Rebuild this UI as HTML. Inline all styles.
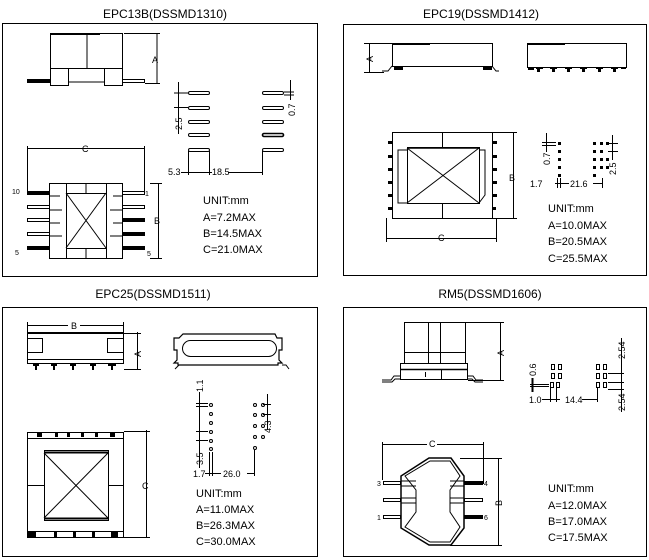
<!DOCTYPE html>
<html><head><meta charset="utf-8"><style>
html,body{margin:0;padding:0;background:#fff;}
svg{display:block;font-family:"Liberation Sans",sans-serif;}
text{fill:#000;}
.t{font-size:12px;text-anchor:middle;}
.u{font-size:11px;}
.s{font-size:9px;}
.xs{font-size:7px;}
</style></head><body>
<svg width="649" height="560" viewBox="0 0 649 560" xmlns="http://www.w3.org/2000/svg" stroke="#000" fill="none" stroke-width="1">
<g stroke="none">
<text class="t" x="165" y="18">EPC13B(DSSMD1310)</text>
<text class="t" x="481" y="18">EPC19(DSSMD1412)</text>
<text class="t" x="153" y="298">EPC25(DSSMD1511)</text>
<text class="t" x="490" y="298">RM5(DSSMD1606)</text>
</g>
<rect x="2.5" y="23.5" width="315" height="253"/>
<rect x="343.5" y="24.5" width="303" height="251"/>
<rect x="2.5" y="307.5" width="315" height="249"/>
<rect x="343.5" y="307.5" width="303" height="249"/>

<!-- ===== EPC13B ===== -->
<rect x="50.5" y="33.5" width="72" height="35"/>
<line x1="87" y1="33" x2="87" y2="68"/>
<line x1="50" y1="34" x2="100" y2="34" stroke-width="2"/>
<rect x="50.5" y="68.5" width="18" height="17"/>
<rect x="104.5" y="68.5" width="18" height="17"/>
<line x1="68" y1="82" x2="104" y2="82"/>
<rect x="27.5" y="79.5" width="23" height="3" fill="#000"/>
<rect x="122.5" y="79.5" width="22" height="3"/>
<line x1="157" y1="33" x2="157" y2="84"/>
<line x1="124" y1="33.5" x2="160" y2="33.5"/>
<line x1="145" y1="83.5" x2="160" y2="83.5"/>
<text class="s" x="152" y="63" stroke="none">A</text>
<g>
<rect x="188.5" y="91.5" width="21" height="3" rx="1.5"/><rect x="188.5" y="106.5" width="21" height="3" rx="1.5"/><rect x="188.5" y="120.5" width="21" height="3" rx="1.5"/><rect x="188.5" y="133.5" width="21" height="3" rx="1.5"/><rect x="188.5" y="148.5" width="21" height="3" rx="1.5"/>
<rect x="262.5" y="91.5" width="21" height="3" rx="1.5"/><rect x="262.5" y="106.5" width="21" height="3" rx="1.5"/><rect x="262.5" y="120.5" width="21" height="3" rx="1.5"/><rect x="262.5" y="133.5" width="21" height="3" rx="1.5" stroke-width="1.6"/><rect x="262.5" y="148.5" width="21" height="3" rx="1.5"/>
</g>
<line x1="178.5" y1="82" x2="178.5" y2="134"/>
<line x1="174" y1="93" x2="188" y2="93"/><line x1="174" y1="107.5" x2="188" y2="107.5"/>
<text class="s" stroke="none" transform="translate(182,130) rotate(-90)">2.5</text>
<line x1="290.5" y1="80" x2="290.5" y2="100"/>
<line x1="284" y1="92" x2="294" y2="92"/><line x1="284" y1="95" x2="294" y2="95"/>
<text class="s" stroke="none" transform="translate(295,116) rotate(-90)">0.7</text>
<line x1="188.5" y1="151" x2="188.5" y2="175"/><line x1="209.5" y1="151" x2="209.5" y2="175"/><line x1="262.5" y1="151" x2="262.5" y2="175"/>
<line x1="181" y1="172.5" x2="212" y2="172.5"/>
<line x1="228" y1="172.5" x2="262" y2="172.5"/>
<text class="s" stroke="none" x="168" y="175">5.3</text>
<text class="s" stroke="none" x="212" y="175">18.5</text>
<line x1="27" y1="148.5" x2="144" y2="148.5"/>
<line x1="27.5" y1="146" x2="27.5" y2="192"/><line x1="144.5" y1="146" x2="144.5" y2="192"/>
<text class="s" stroke="none" x="82" y="152">C</text>
<rect x="49.5" y="183.5" width="73" height="75"/>
<line x1="66.5" y1="183" x2="66.5" y2="258"/><line x1="106.5" y1="183" x2="106.5" y2="258"/>
<line x1="66" y1="193.5" x2="106" y2="193.5"/><line x1="66" y1="248.5" x2="106" y2="248.5"/>
<line x1="86" y1="183" x2="86" y2="193"/><line x1="86" y1="248" x2="86" y2="258"/>
<line x1="66" y1="193" x2="106" y2="248"/><line x1="106" y1="193" x2="66" y2="248"/>
<g>
<rect x="27.5" y="191.5" width="22" height="3" fill="#000"/><rect x="27.5" y="205.5" width="22" height="3"/><rect x="27.5" y="218.5" width="22" height="3"/><rect x="27.5" y="232.5" width="22" height="3"/><rect x="27.5" y="246.5" width="22" height="3" fill="#000"/>
<rect x="122.5" y="191.5" width="22" height="3"/><rect x="122.5" y="205.5" width="22" height="3"/><rect x="122.5" y="218.5" width="22" height="3" fill="#000"/><rect x="122.5" y="232.5" width="22" height="3" fill="#000"/><rect x="122.5" y="246.5" width="22" height="3" fill="#000"/>
<path d="M50 196h10 M50 210h12 M50 223h10 M50 236h12 M113 196h9 M110 210h12 M113 223h9 M110 236h12"/>
</g>
<line x1="158.5" y1="183" x2="158.5" y2="259"/>
<line x1="150" y1="183.5" x2="162" y2="183.5"/><line x1="150" y1="258.5" x2="162" y2="258.5"/>
<text class="s" stroke="none" x="154" y="224">B</text>
<text class="xs" stroke="none" x="12" y="194">10</text>
<text class="xs" stroke="none" x="145" y="196">1</text>
<text class="xs" stroke="none" x="15" y="255">5</text>
<text class="xs" stroke="none" x="147" y="256">5</text>
<g stroke="none" class="u">
<text x="203" y="204">UNIT:mm</text>
<text x="203" y="221">A=7.2MAX</text>
<text x="203" y="237">B=14.5MAX</text>
<text x="203" y="253">C=21.0MAX</text>
</g>

<!-- ===== EPC19 ===== -->
<rect x="392.5" y="43.5" width="100" height="23"/>
<line x1="392" y1="44" x2="430" y2="44" stroke-width="2"/>
<path d="M392 66 l-4 5 h-6 M492 66 l4 5 h3"/>
<rect x="394.5" y="66.5" width="8" height="3" fill="#000"/><rect x="483.5" y="66.5" width="8" height="3" fill="#000"/>
<line x1="369.5" y1="43" x2="369.5" y2="72"/>
<line x1="364" y1="43.5" x2="392" y2="43.5"/><line x1="364" y1="72.5" x2="384" y2="72.5"/>
<text class="s" stroke="none" transform="translate(373,62) rotate(-90)">A</text>
<rect x="527.5" y="43.5" width="99" height="24"/>
<line x1="527" y1="44" x2="565" y2="44" stroke-width="2"/>
<g fill="#000" stroke="none">
<rect x="528" y="67" width="6" height="3"/><rect x="536" y="67" width="7" height="2"/><rect x="537" y="69" width="3" height="3"/>
<rect x="550" y="67" width="7" height="2"/><rect x="552" y="69" width="3" height="3"/>
<rect x="565" y="67" width="7" height="2"/><rect x="567" y="69" width="3" height="3"/>
<rect x="580" y="67" width="7" height="2"/><rect x="582" y="69" width="3" height="3"/>
<rect x="596" y="67" width="7" height="2"/><rect x="598" y="69" width="3" height="3"/>
<rect x="611" y="67" width="7" height="2"/><rect x="613" y="69" width="3" height="3"/>
<rect x="621" y="67" width="5" height="2"/>
</g>
<rect x="392.5" y="132.5" width="100" height="86"/>
<line x1="442.5" y1="132" x2="442.5" y2="148"/><line x1="442.5" y1="203" x2="442.5" y2="218"/>
<rect x="407.5" y="147.5" width="72" height="56"/>
<line x1="407" y1="148" x2="479" y2="148" stroke-width="1.6"/>
<path d="M407 150 h-9 v53 h9 M479 150 h6 v45 l-6 8"/>
<line x1="407" y1="148" x2="479" y2="203"/><line x1="479" y1="148" x2="407" y2="203"/>
<g fill="#000" stroke="none">
<rect x="388" y="141" width="4" height="3"/><rect x="388" y="155" width="4" height="3"/><rect x="388" y="168" width="4" height="3"/><rect x="388" y="181" width="4" height="3"/><rect x="388" y="194" width="4" height="3"/><rect x="388" y="207" width="4" height="3"/>
<rect x="493" y="141" width="4" height="3"/><rect x="493" y="155" width="4" height="3"/><rect x="493" y="168" width="4" height="3"/><rect x="493" y="181" width="4" height="3"/><rect x="493" y="194" width="4" height="3"/><rect x="493" y="207" width="3" height="3"/>
</g>
<line x1="513.5" y1="132" x2="513.5" y2="219"/>
<line x1="492" y1="132.5" x2="517" y2="132.5"/><line x1="492" y1="218.5" x2="517" y2="218.5"/>
<text class="s" stroke="none" x="509" y="181">B</text>
<line x1="386" y1="238.5" x2="496" y2="238.5"/>
<line x1="386.5" y1="218" x2="386.5" y2="242"/><line x1="496.5" y1="218" x2="496.5" y2="242"/>
<text class="s" stroke="none" x="438" y="241">C</text>
<g fill="#000" stroke="none">
<rect x="558" y="142" width="3" height="3"/><rect x="558" y="150" width="3" height="3"/><rect x="558" y="158" width="3" height="3"/><rect x="558" y="166" width="3" height="3"/><rect x="558" y="174" width="3" height="3"/>
<rect x="593" y="142" width="3" height="3"/><rect x="593" y="150" width="3" height="3"/><rect x="593" y="158" width="3" height="3"/><rect x="593" y="166" width="3" height="3"/><rect x="593" y="174" width="3" height="3"/>
<rect x="600" y="142" width="3" height="3"/><rect x="600" y="150" width="3" height="3"/><rect x="600" y="158" width="3" height="3"/><rect x="600" y="166" width="3" height="3"/>
<rect x="606" y="142" width="3" height="3"/><rect x="606" y="158" width="3" height="3"/><rect x="606" y="166" width="3" height="3"/>
</g>
<line x1="546.5" y1="133" x2="546.5" y2="152"/><line x1="542" y1="142.5" x2="556" y2="142.5"/><line x1="542" y1="145.5" x2="556" y2="145.5"/>
<text class="s" stroke="none" transform="translate(550,165) rotate(-90)">0.7</text>
<line x1="612.5" y1="135" x2="612.5" y2="160"/><line x1="608" y1="143.5" x2="618" y2="143.5"/><line x1="608" y1="151.5" x2="618" y2="151.5"/>
<text class="s" stroke="none" transform="translate(616,175) rotate(-90)">2.5</text>
<line x1="542" y1="183.5" x2="602" y2="183.5"/>
<path d="M557.5 178v10 M560.5 178v10 M602.5 178v10"/>
<rect x="539" y="178" width="16" height="10" fill="#fff" stroke="none"/>
<rect x="569" y="178" width="24" height="10" fill="#fff" stroke="none"/>
<text class="s" stroke="none" x="530" y="187">1.7</text>
<text class="s" stroke="none" x="570" y="187">21.6</text>
<g stroke="none" class="u">
<text x="548" y="212">UNIT:mm</text>
<text x="548" y="229">A=10.0MAX</text>
<text x="548" y="245">B=20.5MAX</text>
<text x="548" y="262">C=25.5MAX</text>
</g>

<!-- ===== EPC25 ===== -->
<line x1="27" y1="325.5" x2="123" y2="325.5"/>
<path d="M27.5 322v12 M123.5 322v12"/>
<rect x="68" y="321" width="12" height="9" fill="#fff" stroke="none"/>
<text class="s" stroke="none" x="71" y="329">B</text>
<rect x="27.5" y="332.5" width="96" height="31"/>
<line x1="27" y1="333" x2="123" y2="333" stroke-width="2"/>
<rect x="27.5" y="338.5" width="15" height="14"/><rect x="107.5" y="338.5" width="16" height="14"/>
<line x1="27" y1="359.5" x2="123" y2="359.5"/>
<g fill="#000" stroke="none">
<rect x="33" y="364" width="6" height="2"/><rect x="35" y="366" width="2" height="4"/>
<rect x="51" y="364" width="6" height="2"/><rect x="53" y="366" width="2" height="4"/>
<rect x="70" y="364" width="6" height="2"/><rect x="72" y="366" width="2" height="4"/>
<rect x="90" y="364" width="6" height="2"/><rect x="92" y="366" width="2" height="4"/>
<rect x="108" y="364" width="8" height="2"/><rect x="111" y="366" width="2" height="4"/>
</g>
<line x1="137.5" y1="332" x2="137.5" y2="370"/>
<line x1="124" y1="333.5" x2="141" y2="333.5"/><line x1="124" y1="369.5" x2="141" y2="369.5"/>
<text class="s" stroke="none" transform="translate(141,357) rotate(-90)">A</text>
<path d="M183 334 h92 l2 4 h5 v12 h-3 v10 l3 3 h-4 v2 h-100 v-2 l-4 0 3 -3 v-10 h-3 v-12 h5 z" stroke-width="1.2"/>
<rect x="182.5" y="340.5" width="94" height="16" rx="8"/>
<path d="M175 369 l4 -4 h8 M282 365 h4 l3 4"/>
<rect x="27.5" y="432.5" width="96" height="105"/>
<line x1="27" y1="438.5" x2="123" y2="438.5"/>
<line x1="27" y1="531.5" x2="123" y2="531.5"/>
<path d="M27 485.5 h17 M108 485.5 h15"/>
<rect x="44.5" y="450.5" width="64" height="70"/>
<line x1="44" y1="452.5" x2="108" y2="452.5" stroke-width="2"/>
<line x1="44" y1="518.5" x2="108" y2="518.5" stroke-width="2"/>
<line x1="44" y1="453" x2="108" y2="518"/><line x1="108" y1="453" x2="44" y2="518"/>
<g fill="#000" stroke="none">
<rect x="37" y="432" width="5" height="5"/><rect x="55" y="432" width="3" height="5"/><rect x="67" y="432" width="3" height="5"/><rect x="81" y="432" width="3" height="5"/><rect x="95" y="432" width="3" height="5"/><rect x="110" y="432" width="5" height="5"/>
<rect x="28" y="532" width="8" height="5"/><rect x="54" y="532" width="3" height="5"/><rect x="73" y="532" width="3" height="5"/><rect x="92" y="532" width="3" height="5"/><rect x="111" y="532" width="7" height="5"/>
</g>
<line x1="146.5" y1="430" x2="146.5" y2="538"/>
<line x1="124" y1="431.5" x2="150" y2="431.5"/><line x1="124" y1="537.5" x2="150" y2="537.5"/>
<text class="s" stroke="none" x="142" y="489">C</text>
<g fill="#fff">
<circle cx="211" cy="405" r="1.5"/><circle cx="211" cy="414" r="1.5"/><circle cx="211" cy="423" r="1.5"/><circle cx="211" cy="432" r="1.5"/><circle cx="211" cy="441" r="1.5"/><circle cx="211" cy="449" r="1.5"/>
<circle cx="255" cy="405" r="1.5"/><circle cx="255" cy="415" r="1.5"/><circle cx="255" cy="426" r="1.5"/><circle cx="255" cy="437" r="1.5"/><circle cx="255" cy="448" r="1.5"/>
<circle cx="263" cy="405" r="1.5"/><circle cx="263" cy="415" r="1.5"/><circle cx="263" cy="426" r="1.5"/><circle cx="263" cy="437" r="1.5"/>
</g>
<line x1="199.5" y1="392" x2="199.5" y2="468"/>
<path d="M196 403.5h12 M196 406.5h12 M196 431.5h12 M196 440.5h12"/>
<text class="s" stroke="none" transform="translate(203,392) rotate(-90)">1.1</text>
<text class="s" stroke="none" transform="translate(203,465) rotate(-90)">3.5</text>
<line x1="267.5" y1="394" x2="267.5" y2="430"/>
<path d="M263 404.5h8 M263 414.5h8"/>
<text class="s" stroke="none" transform="translate(271,433) rotate(-90)">4.3</text>
<line x1="205" y1="473.5" x2="255" y2="473.5"/>
<path d="M209.5 452v24 M212.5 452v24 M254.5 450v26"/>
<rect x="221" y="468" width="26" height="10" fill="#fff" stroke="none"/>
<text class="s" stroke="none" x="193" y="477">1.7</text>
<text class="s" stroke="none" x="223" y="477">26.0</text>
<g stroke="none" class="u">
<text x="196" y="497">UNIT:mm</text>
<text x="196" y="513">A=11.0MAX</text>
<text x="196" y="529">B=26.3MAX</text>
<text x="196" y="545">C=30.0MAX</text>
</g>

<!-- ===== RM5 ===== -->
<rect x="404.5" y="322.5" width="61" height="41"/>
<path d="M428.5 322v41 M440.5 322v41 M404 352.5h61"/>
<rect x="400.5" y="363.5" width="67" height="16"/>
<line x1="400" y1="369.5" x2="467" y2="369.5" stroke-width="1.6"/>
<path d="M425.5 372v5 M441.5 370v10"/>
<path d="M400 376 h-6 l-3 4 h-9 M400 379 h-5 l-3 3 h-10 M467 376 h6 l3 4 h7 M467 379 h5 l3 3 h8"/>
<line x1="500.5" y1="322" x2="500.5" y2="381"/>
<path d="M466 322.5h38 M468 380.5h36"/>
<text class="s" stroke="none" transform="translate(504,356) rotate(-90)">A</text>
<g fill="#fff">
<rect x="551.5" y="364.5" width="3" height="5"/><rect x="558.5" y="364.5" width="3" height="5"/>
<rect x="551.5" y="373.5" width="3" height="5"/><rect x="558.5" y="373.5" width="3" height="5"/>
<rect x="550.5" y="382.5" width="3" height="5"/><rect x="556.5" y="382.5" width="3" height="5"/>
<rect x="596.5" y="364.5" width="3" height="5"/><rect x="603.5" y="364.5" width="3" height="5"/>
<rect x="596.5" y="373.5" width="3" height="5"/><rect x="603.5" y="373.5" width="3" height="5"/>
<rect x="596.5" y="382.5" width="3" height="5"/><rect x="603.5" y="382.5" width="3" height="5"/>
</g>
<line x1="532.5" y1="378" x2="532.5" y2="392" stroke-width="2"/>
<path d="M530 384.5 h19 M530 386.5 h19"/>
<text class="s" stroke="none" transform="translate(536,376) rotate(-90)">0.6</text>
<line x1="530" y1="399.5" x2="597" y2="399.5"/>
<path d="M550.5 388v14 M556.5 388v14 M597.5 388v14"/>
<rect x="560" y="394" width="22" height="10" fill="#fff" stroke="none"/>
<rect x="529" y="394" width="13" height="10" fill="#fff" stroke="none"/>
<text class="s" stroke="none" x="529" y="403">1.0</text>
<text class="s" stroke="none" x="565" y="403">14.4</text>
<line x1="621.5" y1="338" x2="621.5" y2="412"/>
<path d="M608 373.5h16 M608 382.5h16 M608 389.5h16"/>
<text class="s" stroke="none" transform="translate(625,359) rotate(-90)">2.54</text>
<text class="s" stroke="none" transform="translate(625,411) rotate(-90)">2.54</text>
<line x1="382" y1="444.5" x2="483" y2="444.5"/>
<path d="M382.5 442v38 M483.5 442v42"/>
<rect x="427" y="439" width="10" height="10" fill="#fff" stroke="none"/>
<text class="s" stroke="none" x="429" y="447">C</text>
<path d="M429 458 H451 L464 476 V528 L451 545 H429 L401 528 V476 Z" stroke-width="1.5"/>
<path d="M430 461 H450 L460 476 L450 490 V512 L460 527 L450 542 H430 L405 527 L416 512 V490 L405 476 Z"/>
<path d="M401 481h15 M401 486h15 M450 481h14 M450 486h14 M401 498h15 M450 498h14 M401 503h15 M450 503h14"/>
<g>
<rect x="383.5" y="481.5" width="17" height="3"/><rect x="383.5" y="498.5" width="17" height="3"/><rect x="383.5" y="515.5" width="17" height="3"/>
<rect x="464.5" y="481.5" width="18" height="3" fill="#000"/><rect x="464.5" y="498.5" width="18" height="3"/><rect x="464.5" y="515.5" width="18" height="3" fill="#000"/>
</g>
<text class="xs" stroke="none" x="377" y="486">3</text>
<text class="xs" stroke="none" x="377" y="520">1</text>
<text class="xs" stroke="none" x="484" y="486">4</text>
<text class="xs" stroke="none" x="484" y="520">6</text>
<line x1="498.5" y1="458" x2="498.5" y2="545"/>
<path d="M460 458.5h42 M450 545.5h52"/>
<text class="s" stroke="none" transform="translate(502,506) rotate(-90)">B</text>
<g stroke="none" class="u">
<text x="548" y="492">UNIT:mm</text>
<text x="548" y="509">A=12.0MAX</text>
<text x="548" y="525">B=17.0MAX</text>
<text x="548" y="541">C=17.5MAX</text>
</g>
</svg>
</body></html>
